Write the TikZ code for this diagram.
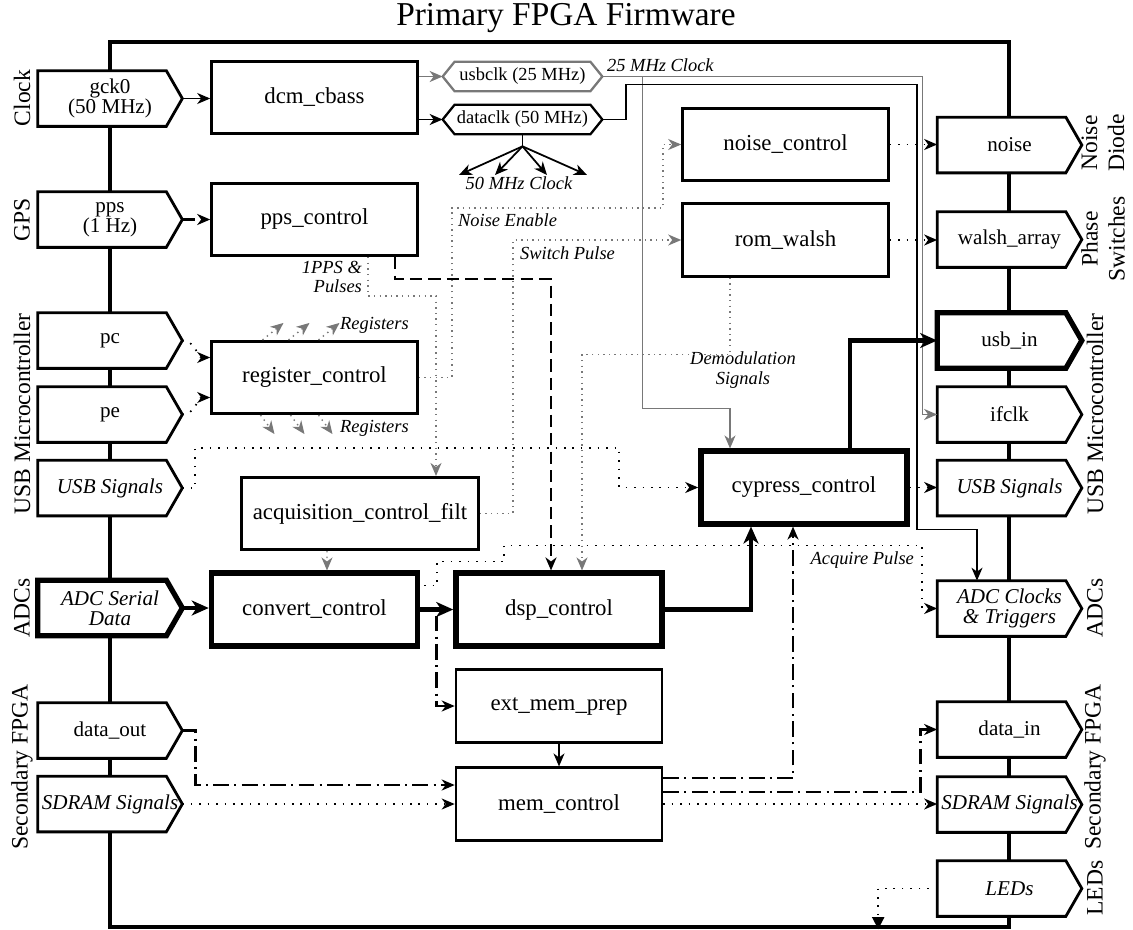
\documentclass[tikz,border=0pt]{standalone}
\usepackage{fontspec}
\setmainfont{Liberation Serif}
\usepackage{xcolor}
\usepackage{tikz}
\usetikzlibrary{arrows.meta,calc,positioning}
\definecolor{clkgrey}{RGB}{120,120,120}
\pgfdeclarelayer{frame}
\pgfdeclarelayer{ports}
\pgfsetlayers{frame,ports,main}
\newcommand{\blockfont}{\fontsize{13}{15}\selectfont}
\newcommand{\portfont}{\fontsize{12}{11.5}\selectfont}
\newcommand{\hexfont}{\fontsize{10.5}{12}\selectfont}
\newcommand{\notefont}{\fontsize{10.5}{11}\selectfont\itshape}
\newcommand{\sidefont}{\fontsize{13.4}{15.4}\selectfont}

\begin{document}
\begin{tikzpicture}[
  x=0.02cm, y=-0.02cm,
  block/.style={draw, line width=1.5pt, minimum width=4.12cm, minimum height=1.45cm, inner sep=0pt, font=\blockfont},
  mainblock/.style={block, line width=3.2pt},
  port/.style={minimum width=2.88cm, minimum height=1.1cm, inner sep=0pt, align=center, font=\portfont},
  portline/.style={draw, fill=white, line width=1.6pt},
  mainportline/.style={portline, line width=3pt},
  hex/.style={minimum width=3.18cm, minimum height=0.58cm, inner sep=0pt, font=\hexfont},
  side/.style={rotate=90, align=center, font=\sidefont},
  note/.style={inner sep=1pt, align=center, font=\notefont},
  arr/.style={-{Stealth[length=2.6mm, width=2.2mm, inset=0.8mm]}, line width=1pt},
  bigarr/.style={-{Stealth[length=3.4mm, width=3mm, inset=1mm]}, line width=2.4pt},
  clkarr/.style={arr, clkgrey, line width=0.9pt},
  dotarr/.style={arr, dash pattern=on 0.9pt off 3.9pt},
  greydotarr/.style={arr, clkgrey, line width=0.8pt, dash pattern=on 0.8pt off 2.4pt},
  dasharr/.style={arr, line width=1.3pt, dash pattern=on 7pt off 3.5pt},
  dotdasharr/.style={arr, line width=1.6pt, dash pattern=on 9pt off 3pt on 1.2pt off 3pt},
  ledarr/.style={-{Triangle[length=2.4mm, width=2.4mm]}, line width=1pt, dash pattern=on 0.9pt off 3.9pt}
]
\useasboundingbox (0,0) rectangle (1133,930);

\begin{pgfonlayer}{frame}
\node[draw, line width=2.6pt, minimum width=17.98cm, minimum height=17.7cm, inner sep=0pt] (fw) at (559.5,484.5) {};
\end{pgfonlayer}
\node[font=\fontsize{19}{22}\selectfont, anchor=base] (title) at (566,25) {Primary FPGA Firmware};

\node[side] (lclk) at (22,98) {Clock};
\node[side] (lgps) at (22,220) {GPS};
\node[side] (lusb) at (22,414) {USB Microcontroller};
\node[side] (ladc) at (22,608) {ADCs};
\node[side] (lsec) at (22,767) {Secondary FPGA};
\node[side] (rnoise) at (1103,143) {Noise\\Diode};
\node[side] (rphase) at (1103,239) {Phase\\Switches};
\node[side] (rusb) at (1095,414) {USB Microcontroller};
\node[side] (radc) at (1095,608) {ADCs};
\node[side] (rsec) at (1095,767) {Secondary FPGA};
\node[side] (rled) at (1095,888) {LEDs};

\node[port] (gck) at (110,98.5) {gck0\\(50 MHz)};
\node[port] (pps) at (110,219.5) {pps\\(1 Hz)};
\node[port] (pc) at (110,340.5) {pc};
\node[port] (pe) at (110,414.5) {pe};
\node[port, font=\portfont\itshape] (usbl) at (110,488) {USB Signals};
\node[port, font=\portfont\itshape] (adcl) at (110,608) {ADC Serial\\Data};
\node[port] (dout) at (110,730.5) {data\_out};
\node[port, font=\portfont\itshape] (sdraml) at (110,804) {SDRAM Signals};
\node[port] (noise) at (1009.5,145) {noise};
\node[port] (walsh) at (1009.5,239.5) {walsh\_array};
\node[port] (usbin) at (1009.5,340.5) {usb\_in};
\node[port] (ifclk) at (1009.5,414.5) {ifclk};
\node[port, font=\portfont\itshape] (usbr) at (1009.5,488) {USB Signals};
\node[port, font=\portfont\itshape] (adcclk) at (1009.5,608.5) {ADC Clocks\\\& Triggers};
\node[port] (datain) at (1009.5,729.5) {data\_in};
\node[port, font=\portfont\itshape] (sdramr) at (1009.5,804.5) {SDRAM Signals};
\node[port, font=\portfont\itshape] (leds) at (1009.5,888.5) {LEDs};

\begin{pgfonlayer}{ports}
\foreach \p in {gck,pps,pc,pe,usbl,dout,sdraml,noise,walsh,ifclk,usbr,adcclk,datain,sdramr,leds}
  \draw[portline] (\p.north west) -- ($(\p.north east)+(-16,0)$) -- (\p.east) -- ($(\p.south east)+(-16,0)$) -- (\p.south west) -- cycle;
\foreach \p in {adcl,usbin}
  \draw[mainportline] (\p.north west) -- ($(\p.north east)+(-16,0)$) -- (\p.east) -- ($(\p.south east)+(-16,0)$) -- (\p.south west) -- cycle;
\end{pgfonlayer}

\node[block] (dcm) at (314.5,97.5) {dcm\_cbass};
\node[block] (ppsc) at (314.5,219.5) {pps\_control};
\node[block] (reg) at (314.5,377.5) {register\_control};
\node[block, minimum width=4.74cm] (acq) at (360,513.5) {acquisition\_control\_filt};
\node[mainblock] (conv) at (314.5,609.5) {convert\_control};
\node[mainblock] (dsp) at (559,609.5) {dsp\_control};
\node[block] (ext) at (559,706) {ext\_mem\_prep};
\node[block] (mem) at (559,804) {mem\_control};
\node[block] (noisec) at (785.5,144.5) {noise\_control};
\node[block] (rom) at (785.5,240) {rom\_walsh};
\node[mainblock] (cyp) at (804,487.5) {cypress\_control};

\node[hex] (usbclk) at (522.5,76.5) {usbclk (25 MHz)};
\node[hex] (dataclk) at (522.5,119.5) {dataclk (50 MHz)};
\foreach \h/\c in {usbclk/clkgrey,dataclk/black}
  \draw[\c, line width=1.3pt] (\h.west) -- ($(\h.north west)+(12,0)$) -- ($(\h.north east)+(-12,0)$) -- (\h.east) -- ($(\h.south east)+(-12,0)$) -- ($(\h.south west)+(12,0)$) -- cycle;

\node[note, anchor=south west] (clk25) at (605,74) {25 MHz Clock};
\node[note, anchor=north] (clk50) at (519,175) {50 MHz Clock};
\node[note, anchor=west] (regup) at (338,325) {Registers};
\node[note, anchor=west] (regdn) at (338,428) {Registers};
\node[note, anchor=north west] (nen) at (456,212) {Noise Enable};
\node[note, anchor=north west] (swp) at (518,245) {Switch Pulse};
\node[note, anchor=north east, align=right] (ppsn) at (364,259) {1PPS \&\\Pulses};
\node[note] (demod) at (743,370) {Demodulation\\Signals};
\node[note, anchor=north east] (acqp) at (916,550) {Acquire Pulse};

\draw[arr] (gck.east) -- (gck.east -| dcm.west);
\draw[dasharr] (pps.east) -- (pps.east -| ppsc.west);
\draw[clkarr] (dcm.east |- usbclk.west) -- (usbclk.west);
\draw[arr] (dcm.east |- dataclk.west) -- (dataclk.west);
\draw[line width=1pt] (dataclk.south) -- ++(0,12) coordinate (fan);
\foreach \dx in {-60,-24,28,68}
  \draw[arr] (fan) -- ($(clk50.north)+(\dx,0)$);
\draw[clkarr] (usbclk.east) -- ++(320,0) |- (ifclk.west);
\draw[clkarr] ($(usbclk.east)+(40,0)$) |- ($(cyp.north)+(-74,-40)$) -- ($(cyp.north)+(-74,0)$);
\draw[arr] (dataclk.east) -- ++(24,0) |- ++(291,-35) -- ++(0,445) -| ($(adcclk.north)+(-32.5,0)$);
\draw[bigarr] ($(cyp.north)+(46,0)$) |- (usbin.west);
\draw[dotarr] (cyp.east) -- (cyp.east -| usbr.west);
\draw[dotarr] (noisec.east) -- (noisec.east -| noise.west);
\draw[dotarr] (rom.east) -- (rom.east -| walsh.west);
\draw[dotarr] (pc.east) to[out=0, in=180] ($(reg.west)+(0,-20)$);
\draw[dotarr] (pe.east) to[out=0, in=180] ($(reg.west)+(0,20)$);
\foreach \dx in {-52,-26,4}
  \draw[greydotarr] ($(reg.north)+(\dx,0)$) -- ++(21,-17);
\foreach \dx in {-54,-24,4}
  \draw[greydotarr] ($(reg.south)+(\dx,0)$) -- ++(14,19);
\draw[greydotarr] (reg.east) -- ++(33,0) |- ++(211,-169.5) |- (noisec.west);
\draw[greydotarr] (acq.east) -- ++(33,0) |- (rom.west);
\draw[greydotarr] ($(ppsc.south)+(53.5,0)$) -- ++(0,39) -| ($(acq.north)+(76,0)$);
\draw[dasharr] ($(ppsc.south)+(80.5,0)$) -- ++(0,22) -| ($(dsp.north)+(-8,0)$);
\draw[greydotarr] ($(rom.south)+(-55.5,0)$) -- ++(0,77) -| ($(dsp.north)+(23,0)$);
\draw[greydotarr] ($(acq.south)+(-33,0)$) -- ($(conv.north)+(12.5,0)$);
\draw[dotarr] (usbl.east) -- ++(13,0) |- ++(424,-40) |- (cyp.west);
\draw[bigarr] (adcl.east) -- (adcl.east -| conv.west);
\draw[bigarr] (conv.east) -- (dsp.west);
\draw[dotdasharr] ($(conv.east)+(16,6)$) |- (ext.west);
\draw[dotarr] ($(conv.east)+(4,-24)$) -- ++(13,0) |- ++(67,-24) |- ++(418,-16) |- (adcclk.west);
\draw[bigarr] (dsp.east) -| ($(cyp.south)+(-53,0)$);
\draw[dotdasharr] ($(mem.east)+(0,-26)$) -| ($(cyp.south)+(-11,0)$);
\draw[dotdasharr] ($(mem.east)+(0,-12)$) -- ++(257,0) |- (datain.west);
\draw[dotarr] (mem.east) -- (mem.east -| sdramr.west);
\draw[arr] (ext.south) -- (mem.north);
\draw[dotdasharr] (dout.east) -- ++(13,0) |- ($(mem.west)+(0,-19)$);
\draw[dotarr] (sdraml.east) -- (sdraml.east -| mem.west);
\draw[ledarr] (leds.west) -| ($(fw.south east)+(-133,0)$);
\end{tikzpicture}
\end{document}
